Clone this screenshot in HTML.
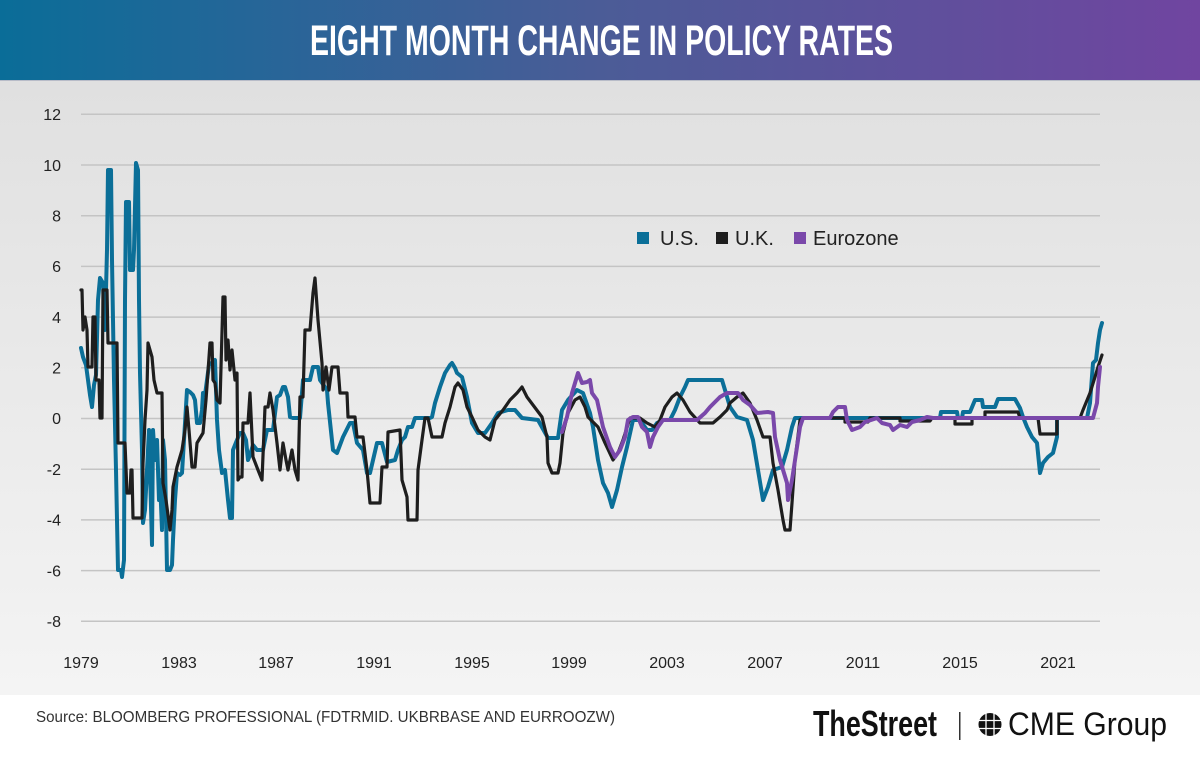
<!DOCTYPE html>
<html><head><meta charset="utf-8"><style>
html,body{margin:0;padding:0;width:1200px;height:760px;overflow:hidden;background:#fff;}
svg{display:block;}
</style></head><body>
<svg width="1200" height="760" viewBox="0 0 1200 760" xmlns="http://www.w3.org/2000/svg">
<defs>
<linearGradient id="hd" x1="0" y1="0" x2="1" y2="0">
<stop offset="0" stop-color="#0a6d98"/><stop offset="0.5" stop-color="#4b5c97"/><stop offset="1" stop-color="#7045a0"/>
</linearGradient>
<linearGradient id="bg" x1="0" y1="0" x2="0" y2="1">
<stop offset="0" stop-color="#e0e0e0"/><stop offset="1" stop-color="#f4f4f4"/>
</linearGradient>
</defs>
<rect x="0" y="0" width="1200" height="80" fill="url(#hd)"/>
<rect x="0" y="80" width="1200" height="615" fill="url(#bg)"/>
<rect x="0" y="80" width="1200" height="1" fill="#b8bcc8"/>
<text x="310" y="55" font-family="'Liberation Sans Narrow','Liberation Sans',sans-serif" font-weight="bold" font-size="43" fill="#fff" textLength="583" lengthAdjust="spacingAndGlyphs">EIGHT MONTH CHANGE IN POLICY RATES</text>

<g stroke="#c4c4c4" stroke-width="1.5">
<line x1="81" y1="114.3" x2="1100" y2="114.3"/>
<line x1="81" y1="165" x2="1100" y2="165"/>
<line x1="81" y1="215.7" x2="1100" y2="215.7"/>
<line x1="81" y1="266.4" x2="1100" y2="266.4"/>
<line x1="81" y1="317.1" x2="1100" y2="317.1"/>
<line x1="81" y1="367.8" x2="1100" y2="367.8"/>
<line x1="81" y1="418.5" x2="1100" y2="418.5"/>
<line x1="81" y1="469.2" x2="1100" y2="469.2"/>
<line x1="81" y1="519.9" x2="1100" y2="519.9"/>
<line x1="81" y1="570.6" x2="1100" y2="570.6"/>
<line x1="81" y1="621.3" x2="1100" y2="621.3"/>
</g>
<g font-family="'Liberation Sans',sans-serif" font-size="16" fill="#222" text-anchor="end">
<text x="61" y="120">12</text>
<text x="61" y="171">10</text>
<text x="61" y="221.5">8</text>
<text x="61" y="272">6</text>
<text x="61" y="323">4</text>
<text x="61" y="373.5">2</text>
<text x="61" y="424">0</text>
<text x="61" y="475">-2</text>
<text x="61" y="525.5">-4</text>
<text x="61" y="576.5">-6</text>
<text x="61" y="627">-8</text>
</g>
<g font-family="'Liberation Sans',sans-serif" font-size="16" fill="#222" text-anchor="middle">
<text x="81" y="668">1979</text>
<text x="179" y="668">1983</text>
<text x="276" y="668">1987</text>
<text x="374" y="668">1991</text>
<text x="472" y="668">1995</text>
<text x="569" y="668">1999</text>
<text x="667" y="668">2003</text>
<text x="765" y="668">2007</text>
<text x="863" y="668">2011</text>
<text x="960" y="668">2015</text>
<text x="1058" y="668">2021</text>
</g>

<g fill="none" stroke-linejoin="round" stroke-linecap="round">
<polyline stroke="#0b6f98" stroke-width="4" points="81,348 83,357 86,365 88,380 90,395 92,407 94,385 96,375 98,300 100,278 103,283 105,330 107,250 108,170 111,170 112,260 114,380 116,470 118,570 121,570 122,577 124,560 125,300 126,202 129,202 130,270 133,270 134,250 136,163 138,170 139,300 140,373 142,450 143,523 145,510 147,470 149,430 150,470 152,545 153,430 155,460 157,440 159,500 160,480 162,530 163,440 165,460 167,570 170,570 172,565 173,540 175,500 177,473 180,475 182,473 184,440 187,390 190,392 193,395 195,400 197,423 200,423 202,410 203,393 205,395 207,380 209,365 213,362 215,360 217,420 219,450 222,473 225,470 228,500 230,518 232,518 233,450 237,440 240,433 243,433 246,440 248,460 250,455 253,445 257,450 263,450 265,440 267,430 273,430 277,397 280,395 283,387 285,387 288,397 290,417 293,418 300,418 303,380 310,380 313,367 318,367 320,380 327,390 328,403 333,450 337,453 343,437 350,423 353,423 357,443 363,450 367,473 370,473 377,443 382,443 387,462 395,460 398,450 402,440 405,437 408,427 412,427 415,418 430,418 432,417 435,403 440,387 445,373 450,365 452,363 455,368 457,373 462,377 467,397 472,423 478,433 485,433 492,423 498,413 508,410 515,410 522,418 538,420 548,438 558,438 562,410 568,400 577,390 583,393 590,413 593,427 598,460 603,483 608,493 612,507 617,490 622,467 627,447 633,420 640,420 647,430 652,430 657,423 663,420 670,420 675,410 680,397 685,387 688,380 722,380 725,390 730,407 737,417 747,420 753,440 758,470 763,500 768,487 773,470 782,467 787,450 792,427 795,418 940,418 941,412 957,412 958,418 962,418 963,412 970,412 975,400 982,400 983,407 995,407 998,399 1015,399 1020,408 1023,417 1027,427 1032,437 1037,443 1040,473 1043,463 1048,457 1053,453 1057,437 1057,418 1087,418 1090,403 1093,363 1096,360 1098,343 1100,330 1102,323"/>
<polyline stroke="#1e1e1e" stroke-width="3.2" points="81,290 82,290 83,330 85,317 87,330 88,367 90,367 92,367 93,317 95,317 96,380 99,380 100,418 102,418 103,290 107,290 108,343 117,343 118,443 125,443 127,493 130,493 131,470 132,470 133,518 142,518 143,463 145,420 147,390 148,343 150,350 152,357 154,380 157,393 162,393 163,483 166,500 170,530 172,510 173,487 177,467 182,450 185,430 187,407 189,430 192,467 195,467 197,443 203,433 206,400 210,343 212,343 213,380 215,383 217,400 220,403 223,297 225,297 226,360 228,340 230,370 232,350 235,380 237,373 238,480 240,477 242,477 243,423 248,423 250,393 253,457 258,470 262,480 265,407 268,407 270,393 273,410 277,443 280,470 283,443 286,460 288,470 292,450 295,470 298,480 300,397 303,397 305,330 310,330 313,293 315,278 318,320 322,363 323,390 326,367 329,390 332,367 338,367 340,393 347,393 348,417 355,417 357,437 363,437 367,470 370,503 380,503 382,467 387,467 388,432 400,430 402,480 407,497 408,520 417,520 418,470 422,440 425,418 428,418 432,437 442,437 445,423 450,407 455,387 458,383 463,390 467,407 472,417 478,430 485,437 490,440 495,420 503,410 510,400 517,393 522,387 527,397 533,405 542,417 547,437 548,463 552,473 558,473 560,463 563,433 568,413 575,400 580,397 585,407 588,417 598,427 605,443 613,460 618,453 623,440 630,418 640,418 647,423 655,427 660,420 665,407 672,397 677,393 683,400 690,412 700,423 713,423 720,417 727,410 730,403 737,397 743,393 750,403 757,420 763,437 770,437 773,463 778,490 783,520 785,530 790,530 792,503 795,460 800,420 803,418 845,418 845,422 868,422 870,418 900,418 900,421 930,421 932,418 955,418 955,424 972,424 972,418 985,418 985,412 1018,412 1020,418 1038,418 1040,434 1057,434 1057,418 1080,418 1083,410 1090,393 1095,377 1098,367 1102,355"/>
<polyline stroke="#7a48aa" stroke-width="4" points="562,432 567,417 572,393 578,373 582,383 587,382 590,380 592,393 597,400 603,427 610,447 615,457 620,450 625,437 628,420 633,417 638,417 642,427 647,432 650,447 653,437 658,427 663,420 697,420 705,413 710,407 715,402 720,397 727,393 738,393 743,400 750,405 757,413 768,412 773,413 775,437 780,460 787,483 788,500 792,480 797,447 800,427 803,418 830,418 833,412 838,407 845,407 847,420 852,430 860,427 865,422 877,418 882,423 890,425 893,430 900,425 907,427 912,422 920,420 927,417 933,418 1093,418 1097,403 1098,387 1100,367"/>
</g>

<rect x="637" y="232" width="12" height="12" fill="#0b6f98"/>
<rect x="716" y="232" width="12" height="12" fill="#1e1e1e"/>
<rect x="794" y="232" width="12" height="12" fill="#7a48aa"/>
<g font-family="'Liberation Sans',sans-serif" font-size="20" fill="#222">
<text x="660" y="245">U.S.</text>
<text x="735" y="245">U.K.</text>
<text x="813" y="245">Eurozone</text>
</g>

<text x="36" y="722" font-family="'Liberation Sans Narrow','Liberation Sans',sans-serif" font-size="16" fill="#333" textLength="579" lengthAdjust="spacingAndGlyphs">Source: BLOOMBERG PROFESSIONAL (FDTRMID. UKBRBASE AND EURROOZW)</text>

<text x="813" y="736" font-family="'Liberation Sans Narrow','Liberation Sans',sans-serif" font-weight="bold" font-size="36" fill="#111" textLength="124" lengthAdjust="spacingAndGlyphs">TheStreet</text>
<rect x="959" y="712" width="1.5" height="28" fill="#333"/>
<g transform="translate(990,724.5)">
<circle r="11.5" fill="#111"/>
<g stroke="#fff" stroke-width="1.3" fill="none">
<line x1="-12" y1="-4" x2="12" y2="-4"/>
<line x1="-12" y1="4" x2="12" y2="4"/>
<line x1="-4" y1="-12" x2="-4" y2="12"/>
<line x1="4" y1="-12" x2="4" y2="12"/>
</g>
</g>
<text x="1008" y="735" font-family="'Liberation Sans',sans-serif" font-size="32" fill="#111" textLength="159" lengthAdjust="spacingAndGlyphs">CME Group</text>
</svg>
</body></html>
